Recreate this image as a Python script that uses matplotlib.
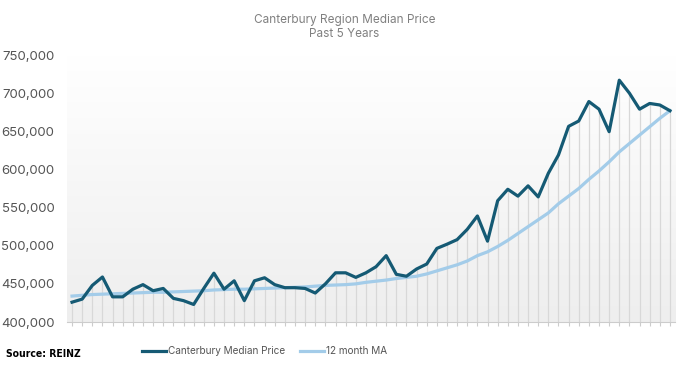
import numpy as np
import matplotlib
matplotlib.use('Agg')
import matplotlib.pyplot as plt
from matplotlib.ticker import FuncFormatter

plt.rcParams['font.family'] = ['Inter', 'DejaVu Sans']

# monthly values, past 5 years (60 months)
median_price = [426000, 430000, 448000, 459000, 433000, 433000, 443000, 449000, 441000, 444000,
                431000, 428000, 423000, 444000, 464000, 443000, 454000, 428000, 454000, 458000,
                449000, 445000, 445000, 444000, 438000, 450000, 464500, 464500, 458500, 464500,
                472500, 487000, 462500, 460000, 469500, 476000, 496500, 502000, 508000, 521500,
                539000, 506000, 559000, 574000, 565000, 578500, 564000, 595000, 619000, 656500,
                663500, 689000, 679000, 649500, 717000, 700000, 679000, 686500, 684500, 677000]

ma_12 = [434000, 435000, 436000, 436500, 437000, 437500, 438000, 438500, 439000, 439000,
         439500, 440000, 440500, 441000, 442000, 442500, 443000, 443000, 443500, 444000,
         444500, 445000, 445500, 446000, 447000, 448000, 448500, 449000, 450000, 452000,
         453500, 455000, 457000, 458500, 460000, 463000, 467000, 471000, 475000, 480000,
         487000, 492000, 499000, 507000, 516000, 525000, 534000, 543000, 555000, 565000,
         575000, 587000, 598000, 610000, 623000, 634000, 645000, 656000, 667000, 677000]

y_ticks = [400000, 450000, 500000, 550000, 600000, 650000, 700000, 750000]

x = np.arange(len(median_price))

fig = plt.figure(figsize=(6.89, 3.70), dpi=100)
ax = fig.add_axes([0.0972, 0.1297, 0.8825, 0.7216])

# soft vertical gradient behind the plot
grad = np.linspace(0, 1, 256).reshape(-1, 1)
ax.imshow(grad, cmap=matplotlib.colors.LinearSegmentedColormap.from_list('g', ['#eeeeee', '#ffffff']),
          extent=[0, 1, 0, 1], transform=ax.transAxes, aspect='auto', origin='lower', zorder=0)

ax.vlines(x, y_ticks[0], median_price, color='#d8d8d8', lw=0.9, zorder=1)
ax.plot(x, ma_12, color='#a3cce9', lw=2.3, zorder=2, label='12 month MA')
ax.plot(x, median_price, color='#155a74', lw=2.3, zorder=3, label='Canterbury Median Price')

ax.set_xlim(-0.5, len(x) - 0.5)
ax.set_ylim(y_ticks[0], y_ticks[-1])
ax.set_yticks(y_ticks)
ax.yaxis.set_major_formatter(FuncFormatter(lambda v, p: f'{v:,.0f}'))
ax.set_xticks(x)
ax.set_xticklabels([])
ax.tick_params(axis='x', length=3, color='#cccccc', width=0.8)
ax.tick_params(axis='y', length=0, pad=9, labelsize=9.5, labelcolor='#555555')

for s in ['top', 'right', 'left']:
    ax.spines[s].set_visible(False)
ax.spines['bottom'].set_color('#cccccc')
ax.spines['bottom'].set_linewidth(0.8)

fig.text(0.5, 0.962, 'Canterbury Region Median Price\nPast 5 Years', ha='center', va='top',
         fontsize=8.5, color='#808080', linespacing=1.2)

handles, labels = ax.get_legend_handles_labels()
fig.legend(handles[::-1], labels[::-1], loc='center', bbox_to_anchor=(0.384, 0.051), ncol=2,
           frameon=False, fontsize=7.2, labelcolor='#555555', handlelength=2.4,
           handletextpad=0.15, columnspacing=1.5)

fig.text(0.008, 0.044, 'Source: REINZ', ha='left', va='center', fontsize=7.5,
         fontweight='bold', fontstretch='condensed', color='#000000', family='DejaVu Sans')

fig.savefig('out.png', dpi=100)
